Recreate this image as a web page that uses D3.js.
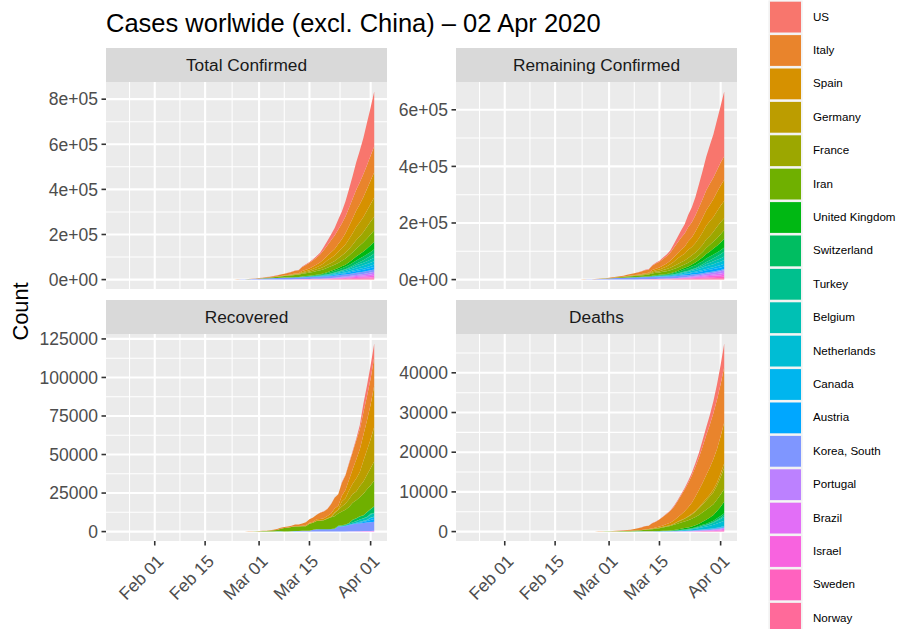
<!DOCTYPE html>
<html>
<head>
<meta charset="utf-8">
<script src="https://cdn.jsdelivr.net/npm/d3@7"></script>
<style>
  body { margin: 0; background: #fff; }
  svg text { font-family: "Liberation Sans", Arial, Helvetica, sans-serif; }
</style>
</head>
<body>
<svg id="chart" width="899" height="629"></svg>
<script>
// ---- data: cumulative counts per country, daily from 21 Feb to 02 Apr 2020 ----
const countries = ["US", "Italy", "Spain", "Germany", "France", "Iran", "United Kingdom",
  "Switzerland", "Turkey", "Belgium", "Netherlands", "Canada", "Austria", "Korea, South",
  "Portugal", "Brazil", "Israel", "Sweden", "Norway"];

const firstDate = "2020-01-22";   // first day of the series
const seriesStart = "2020-02-21"; // first day with non-negligible counts
const lastDate = "2020-04-02";

// rows: Feb21-Feb29 | Mar01-Mar10 | Mar11-Mar20 | Mar21-Mar30 | Mar31-Apr02
const confirmed = [
  [15,15,15,51,51,57,58,60,68, 74,98,118,149,217,262,402,518,583,959, 1281,1663,2179,2726,3499,4632,6421,7786,13680,19101, 25493,33276,43847,53740,65778,83836,101657,121478,140886,161807, 188172,213242,243622],
  [20,62,155,229,322,453,655,888,1128, 1694,2036,2502,3089,3858,4636,5883,7375,9172,10149, 12462,12462,17660,21157,24747,27980,31506,35713,41035,47021, 53578,59138,63927,69176,74386,80589,86498,92472,97689,101739, 105792,110574,115242],
  [2,2,2,2,6,13,15,32,45, 84,120,165,222,259,400,500,673,1073,1695, 2277,2277,5232,6391,7798,9942,11748,13910,17963,20410, 25374,28603,35136,39885,49515,57786,65719,73235,80110,87956, 95923,104118,112065],
  [16,16,16,16,17,27,46,48,79, 130,159,196,262,482,670,799,1040,1176,1457, 1908,2078,3675,4585,5795,7272,9257,12327,15320,19848, 22213,24873,29056,32986,37323,43938,50871,57695,62095,66885, 71808,77872,84794],
  [12,12,12,12,14,18,38,57,100, 130,191,204,288,380,656,959,1136,1219,1794, 2293,2293,3681,4496,4532,6683,7715,9124,10970,12758, 14463,16243,20123,22622,25600,29551,33402,38105,40708,45170, 52827,57749,59929],
  [18,28,43,61,95,139,245,388,593, 978,1501,2336,2922,3513,4747,5823,6566,7161,8042, 9000,10075,11364,12729,13938,14991,16169,17361,18407,19644, 20610,21638,23049,24811,27017,29406,32332,35408,38309,41495, 44605,47593,50468],
  [9,9,9,13,13,13,15,20,23, 36,40,51,86,116,164,207,274,322,384, 459,459,802,1144,1145,1551,1960,2642,2716,4014, 5067,5745,6726,8164,9640,11812,14745,17312,19780,22453, 25481,29865,34173],
  [0,0,0,0,1,1,8,8,18, 27,42,56,90,114,214,268,337,374,491, 652,652,1139,1359,2200,2200,2700,3028,4075,5294, 6575,7474,8795,9877,10897,11811,12928,14076,14829,15922, 16605,17768,18827],
  [0,0,0,0,0,0,0,0,0, 0,0,0,0,0,0,0,0,0,0, 1,1,5,5,6,18,47,98,192,359, 670,1236,1529,1872,2433,3629,5698,7402,9217,10827, 13531,15679,18135],
  [1,1,1,1,1,1,1,1,1, 2,8,13,23,50,109,169,200,239,267, 314,314,559,689,886,1058,1243,1486,1795,2257, 2815,3401,3743,4269,4937,6235,7284,9134,10836,11899, 12775,13964,15348],
  [0,0,0,0,0,0,1,1,6, 10,18,24,38,82,128,188,265,321,382, 503,503,806,962,1138,1416,1711,2058,2467,3003, 3640,4216,4764,5580,6438,7468,8647,9819,10930,11817, 12667,13696,14788],
  [8,8,9,9,11,11,13,14,20, 24,27,30,33,37,49,54,64,77,79, 108,117,193,198,252,415,478,657,800,943, 1277,1469,2088,2790,3251,4042,4682,5576,6280,7398, 8527,9560,11284],
  [0,0,0,0,2,2,3,3,9, 14,18,21,29,41,55,79,104,131,182, 246,302,504,655,860,1018,1332,1646,2013,2388, 2814,3582,4474,5283,5588,6909,7657,8271,8788,9618, 10180,10711,11129],
  [204,433,602,833,977,1261,1766,2337,3150, 3736,4335,5186,5621,6088,6593,7041,7314,7478,7513, 7755,7869,7979,8086,8162,8236,8320,8413,8565,8652, 8799,8897,8961,9037,9137,9241,9332,9478,9583,9661, 9786,9887,9976],
  [0,0,0,0,0,0,0,0,0, 0,2,2,5,8,13,20,30,30,41, 59,59,112,169,245,331,448,448,785,1020, 1280,1600,2060,2362,2995,3544,4268,5170,5962,6408, 7443,8251,9034],
  [0,0,0,0,0,1,1,1,2, 2,2,2,4,4,13,13,20,25,31, 38,52,151,151,162,200,321,372,621,793, 1021,1546,1924,2247,2554,2985,3417,3904,4256,4579, 5717,6836,8044],
  [1,1,1,1,1,1,3,3,7, 7,10,12,15,15,21,21,39,50,75, 75,100,126,161,200,250,304,427,529,712, 883,1071,1238,2369,2693,3035,3619,4247,4695,5358, 5591,6092,6857],
  [1,1,1,1,1,2,7,7,12, 14,15,21,35,94,101,161,203,248,355, 500,599,814,961,1022,1103,1190,1279,1439,1639, 1763,1934,2046,2286,2526,2840,3069,3447,3700,4028, 4435,4947,5568],
  [0,0,0,0,0,1,1,6,15, 19,25,32,56,87,108,147,176,205,400, 598,702,996,1090,1221,1333,1463,1550,1746,1914, 2118,2385,2621,2863,3084,3369,3755,4015,4284,4445, 4641,4863,5147]
];

const recovered = [
  [5,5,5,5,6,6,6,7,7, 7,7,7,7,7,7,7,7,7,8, 8,12,12,12,12,17,17,105,121,147, 176,178,0,348,361,681,869,1072,2665,5644, 7024,8474,9001],
  [0,1,2,1,1,3,45,46,46, 83,149,160,276,414,523,589,622,724,724, 1045,1045,1439,1966,2335,2749,2941,4025,4440,4440, 6072,7024,7432,8326,9362,10361,10950,12384,13030,14620, 15729,16847,18278],
  [2,2,2,2,2,2,2,2,2, 2,2,2,2,2,2,30,30,32,32, 183,183,193,517,517,530,1028,1081,1107,1588, 2125,2575,2575,3794,5367,7015,9357,12285,14709,16780, 19259,22647,26743],
  [14,14,14,14,14,15,16,16,16, 16,16,16,16,16,17,18,18,18,18, 25,25,46,46,46,67,67,105,113,180, 233,266,266,3243,3547,5673,6658,8481,9211,13500, 16100,18700,22440],
  [4,4,4,4,11,11,11,11,12, 12,12,12,12,12,12,12,12,12,12, 12,12,12,12,12,12,12,12,12,12, 12,2200,2206,3250,3907,4955,5707,5724,7226,7964, 9513,11053,12428],
  [0,0,0,0,0,0,49,73,123, 175,291,291,552,739,913,1669,2134,2394,2731, 2959,2959,2959,2959,4590,4590,5389,5389,5710,6745, 7635,7931,7931,8913,9625,10457,11133,11679,12391,13911, 14656,15473,16711],
  [8,8,8,8,8,8,8,8,8, 8,8,8,8,8,8,8,8,18,18, 19,19,19,19,19,52,52,67,67,67, 67,67,135,135,140,150,151,151,151,151, 179,179,208],
  [0,0,0,0,0,0,0,0,0, 0,0,2,3,3,3,3,3,3,3, 4,4,4,4,4,4,4,4,4,15, 15,15,131,131,131,131,1530,1595,1823,1823, 2967,2967,4013],
  [0,0,0,0,0,0,0,0,0, 0,0,0,0,0,0,0,0,0,0, 0,0,0,0,0,0,0,0,0,0, 0,0,0,0,26,26,42,70,105,162, 243,333,415],
  [1,1,1,1,1,1,1,1,1, 1,1,1,1,1,1,1,1,1,1, 1,1,1,1,1,1,1,1,1,1, 1,263,340,410,547,675,858,1063,1359,1527, 1696,2132,2132],
  [0,0,0,0,0,0,0,0,0, 0,0,0,0,0,0,0,0,0,0, 0,0,0,0,0,0,0,2,2,2, 2,2,2,2,3,3,3,3,253,253, 253,253,260],
  [3,3,3,3,3,3,6,6,6, 6,6,6,6,6,6,6,6,8,8, 8,8,8,8,8,8,9,9,9,9, 9,9,9,112,112,112,112,466,466,466, 466,1324,1324],
  [0,0,0,0,0,0,0,0,0, 0,0,0,0,0,0,0,0,0,4, 4,4,6,6,6,6,6,9,9,9, 9,9,9,9,9,112,225,225,479,636, 1095,1436,1749],
  [16,16,18,18,22,22,22,22,27, 30,30,30,41,41,135,135,118,118,247, 288,333,510,510,510,1137,1407,1540,1540,1540, 1540,1540,3166,3166,3507,4144,4528,4811,5033,5228, 5408,5567,5828],
  [0,0,0,0,0,0,0,0,0, 0,0,0,0,0,0,0,0,0,0, 0,0,1,1,1,2,3,3,3,5, 5,5,14,22,22,43,43,43,43,43, 43,43,68],
  [0,0,0,0,0,0,0,0,0, 0,0,0,0,0,0,0,0,0,0, 0,0,0,0,0,0,0,0,0,0, 0,2,2,2,2,6,6,6,6,120, 127,127,127],
  [0,0,0,0,0,0,0,0,0, 1,1,1,1,1,1,1,1,1,1, 1,1,4,4,4,4,11,11,11,11, 11,37,37,68,68,79,89,132,161,224, 241,264,338],
  [0,0,0,0,0,0,0,0,0, 0,0,0,0,0,0,0,0,0,1, 1,1,1,1,1,1,1,1,1,1, 16,16,16,16,16,16,16,16,16,16, 16,16,16],
  [0,0,0,0,0,0,0,0,0, 0,0,0,0,0,0,0,0,0,0, 1,1,1,1,1,1,1,1,1,1, 1,1,1,1,1,1,1,1,1,1, 1,7,7]
];

const deaths = [
  [0,0,0,0,0,0,0,0,1, 1,6,7,11,12,14,17,21,22,28, 36,40,47,54,63,85,108,118,200,244, 307,427,552,706,942,1209,1581,2026,2467,2978, 3873,4757,5926],
  [1,2,3,7,10,12,17,21,29, 34,52,79,107,148,197,233,366,463,631, 827,827,1266,1441,1809,2158,2503,2978,3405,4032, 4825,5476,6077,6820,7503,8215,9134,10023,10779,11591, 12428,13155,13915],
  [0,0,0,0,0,0,0,0,0, 0,0,1,2,3,5,10,17,28,35, 54,55,133,195,289,342,533,623,830,1043, 1375,1772,2311,2808,3647,4365,5138,5982,6803,7716, 8464,9387,10348],
  [0,0,0,0,0,0,0,0,0, 0,0,0,0,0,0,0,0,2,2, 3,3,7,9,11,17,24,28,44,67, 84,94,123,157,206,267,342,433,533,645, 775,920,1107],
  [1,1,1,1,1,2,2,2,2, 2,3,4,4,6,9,11,19,19,33, 48,48,79,91,91,148,148,148,243,450, 562,674,860,1100,1331,1696,1995,2314,2606,3024, 3523,4403,5387],
  [4,5,8,12,16,19,26,34,43, 54,66,77,92,107,124,145,194,237,291, 354,429,514,611,724,853,988,1135,1284,1433, 1556,1685,1812,1934,2077,2234,2378,2517,2640,2757, 2898,3036,3160],
  [0,0,0,0,0,0,0,0,0, 0,0,0,0,0,2,2,3,4,6, 8,8,8,21,21,56,56,72,138,178, 234,282,336,423,466,580,761,1021,1231,1411, 1793,2357,2926],
  [0,0,0,0,0,0,0,0,0, 0,0,0,0,1,1,1,2,2,3, 4,4,11,13,14,14,27,28,41,54, 75,98,120,122,153,191,231,264,300,359, 433,488,536],
  [0,0,0,0,0,0,0,0,0, 0,0,0,0,0,0,0,0,0,0, 0,0,0,0,0,0,1,1,3,4, 9,30,37,44,59,75,92,108,131,168, 214,277,356],
  [0,0,0,0,0,0,0,0,0, 0,0,0,0,0,0,0,0,0,0, 3,3,3,4,4,5,10,14,21,37, 67,75,88,122,178,220,289,353,431,513, 705,828,1011],
  [0,0,0,0,0,0,0,0,0, 0,0,0,0,0,1,1,3,3,4, 5,5,10,12,20,24,43,58,77,107, 137,180,214,277,357,435,547,640,772,865, 1040,1175,1341],
  [0,0,0,0,0,0,0,0,0, 0,0,0,0,0,0,0,0,1,1, 1,1,1,1,1,4,5,8,9,12, 19,21,25,26,30,38,54,61,64,80, 101,109,139],
  [0,0,0,0,0,0,0,0,0, 0,0,0,0,0,0,0,0,0,0, 0,1,1,1,1,3,3,4,6,6, 8,16,21,28,30,49,58,68,86,108, 128,146,158],
  [2,2,6,8,10,12,13,13,16, 17,28,28,35,35,42,44,50,53,54, 60,66,66,72,75,75,81,84,91,94, 102,104,111,120,126,131,139,144,152,158, 162,165,169],
  [0,0,0,0,0,0,0,0,0, 0,0,0,0,0,0,0,0,0,0, 0,0,0,0,0,1,1,2,3,6, 12,14,23,33,43,60,76,100,119,140, 160,187,209],
  [0,0,0,0,0,0,0,0,0, 0,0,0,0,0,0,0,0,0,0, 0,0,0,0,0,0,1,3,6,11, 15,25,34,46,59,77,92,111,136,159, 201,240,324],
  [0,0,0,0,0,0,0,0,0, 0,0,0,0,0,0,0,0,0,0, 0,0,0,0,0,0,0,0,0,1, 1,1,1,3,8,12,12,15,16,20, 21,26,36],
  [0,0,0,0,0,0,0,0,0, 0,0,0,0,0,0,0,0,0,0, 1,1,1,2,3,6,7,10,11,16, 20,21,25,36,62,77,105,105,110,146, 180,239,308],
  [0,0,0,0,0,0,0,0,0, 0,0,0,0,0,0,0,0,0,0, 0,0,1,1,3,3,3,6,7,7, 7,7,10,12,14,14,19,23,25,32, 39,44,50]
];

// axis breaks
const totalTicks = [0, 200000, 400000, 600000, 800000];
const remainingTicks = [0, 200000, 400000, 600000];
const recoveredTicks = [0, 25000, 50000, 75000, 100000, 125000];
const deathTicks = [0, 10000, 20000, 30000, 40000];
const dateTicks = ["2020-02-01", "2020-02-15", "2020-03-01", "2020-03-15", "2020-04-01"];

const titleText = "Cases worlwide (excl. China) \u2013 02 Apr 2020";
const panelTitles = ["Total Confirmed", "Remaining Confirmed", "Recovered", "Deaths"];

// ---- helpers ----
const parse = d3.utcParse("%Y-%m-%d");

// ggplot-style hue palette (polar CIELUV, c = 100, l = 65)
function hueColor(h, c = 100, l = 65) {
  const hr = h * Math.PI / 180;
  const U = c * Math.cos(hr), V = c * Math.sin(hr);
  const Xn = 95.047, Yn = 100, Zn = 108.883;
  const Y = Yn * (l > 7.999592 ? Math.pow((l + 16) / 116, 3) : l / 903.3);
  const t = Xn + Yn + Zn, x = Xn / t, y = Yn / t;
  const uN = 2 * x / (6 * y - x + 1.5), vN = 4.5 * y / (6 * y - x + 1.5);
  const u = U / (13 * l) + uN, v = V / (13 * l) + vN;
  const X = 9 * Y * u / (4 * v);
  const Z = -X / 3 - 5 * Y + 3 * Y / v;
  const lin = [
    ( 3.240479 * X - 1.537150 * Y - 0.498535 * Z) / Yn,
    (-0.969256 * X + 1.875992 * Y + 0.041556 * Z) / Yn,
    ( 0.055648 * X - 0.204043 * Y + 1.057311 * Z) / Yn
  ];
  const g = lin.map(a => {
    const s = a > 0.00304 ? 1.055 * Math.pow(a, 1 / 2.4) - 0.055 : 12.92 * a;
    return Math.round(Math.max(0, Math.min(1, s)) * 255);
  });
  return d3.rgb(g[0], g[1], g[2]).formatHex();
}
const n = countries.length;
const colors = countries.map((_, i) => hueColor(15 + i * 360 / n));
const colorOf = new Map(countries.map((c, i) => [c, colors[i]]));

function sciLabel(v) {
  if (v === 0) return "0e+00";
  const e = Math.floor(Math.log10(Math.abs(v)));
  const m = +(v / Math.pow(10, e)).toFixed(2);
  return m + "e" + (e >= 0 ? "+" : "-") + String(Math.abs(e)).padStart(2, "0");
}
const plainLabel = d3.format("d");

// ---- table rows per metric ----
const days = d3.utcDay.range(parse(seriesStart), d3.utcDay.offset(parse(lastDate), 1));
const remaining = confirmed.map((row, ci) => row.map((v, di) => v - recovered[ci][di] - deaths[ci][di]));

function toRows(matrix) {
  return days.map((d, di) => {
    const r = { date: d };
    countries.forEach((c, ci) => { r[c] = matrix[ci][di]; });
    return r;
  });
}

const panels = [
  { title: panelTitles[0], rows: toRows(confirmed), ticks: totalTicks, fmt: sciLabel, col: 0, row: 0 },
  { title: panelTitles[1], rows: toRows(remaining), ticks: remainingTicks, fmt: sciLabel, col: 1, row: 0 },
  { title: panelTitles[2], rows: toRows(recovered), ticks: recoveredTicks, fmt: plainLabel, col: 0, row: 1 },
  { title: panelTitles[3], rows: toRows(deaths), ticks: deathTicks, fmt: plainLabel, col: 1, row: 1 }
];

// ---- layout ----
const colX = [[106, 387], [456, 737]];
const rowY = [{ strip: 48, top: 82, bottom: 289 }, { strip: 300, top: 334, bottom: 541 }];
const TICK = 4.5;

const svg = d3.select("#chart");
svg.append("rect").attr("width", 899).attr("height", 629).attr("fill", "#fff");

svg.append("text")
  .attr("x", 106).attr("y", 32)
  .attr("font-size", 25.5).attr("fill", "#000")
  .text(titleText);

svg.append("text")
  .attr("transform", "translate(27.5,311.5) rotate(-90)")
  .attr("text-anchor", "middle")
  .attr("font-size", 21.8).attr("fill", "#000")
  .text("Count");

// shared x scale, 5% expansion around the data range
const d0 = parse(firstDate), d1 = parse(lastDate);
const pad = (d1 - d0) * 0.05;
const xDomain = [new Date(+d0 - pad), new Date(+d1 + pad)];
const majorDates = dateTicks.map(parse);

function minorBreaks(major, lo, hi) {
  const step0 = major[1] - major[0];
  const stepN = major[major.length - 1] - major[major.length - 2];
  const ext = [+major[0] - step0, ...major.map(Number), +major[major.length - 1] + stepN];
  const out = [];
  for (let i = 0; i < ext.length - 1; i++) out.push((ext[i] + ext[i + 1]) / 2);
  return out.filter(v => v >= lo && v <= hi);
}

const stackKeys = countries.slice().reverse(); // first country drawn on top

panels.forEach(p => {
  const [xl, xr] = colX[p.col];
  const { strip, top, bottom } = rowY[p.row];
  const x = d3.scaleUtc().domain(xDomain).range([xl, xr]);

  const series = d3.stack().keys(stackKeys)(p.rows);
  const maxY = d3.max(series[series.length - 1], d => d[1]);
  const y = d3.scaleLinear().domain([-0.05 * maxY, 1.05 * maxY]).range([bottom, top]);

  const g = svg.append("g");

  // strip
  g.append("rect").attr("x", xl).attr("y", strip).attr("width", xr - xl).attr("height", top - strip)
    .attr("fill", "#D9D9D9");
  g.append("text").attr("x", (xl + xr) / 2).attr("y", (strip + top) / 2).attr("dy", "0.36em")
    .attr("text-anchor", "middle").attr("font-size", 17.3).attr("fill", "#1A1A1A").text(p.title);

  // panel background
  g.append("rect").attr("x", xl).attr("y", top).attr("width", xr - xl).attr("height", bottom - top)
    .attr("fill", "#EBEBEB");

  // grid
  const [ylo, yhi] = y.domain();
  const yMinor = minorBreaks(p.ticks, ylo, yhi);
  const xMinor = minorBreaks(majorDates, +xDomain[0], +xDomain[1]);
  const grid = g.append("g").attr("stroke", "#fff").attr("fill", "none");
  yMinor.forEach(v => grid.append("line").attr("x1", xl).attr("x2", xr)
    .attr("y1", y(v)).attr("y2", y(v)).attr("stroke-width", 1.05));
  xMinor.forEach(v => grid.append("line").attr("y1", top).attr("y2", bottom)
    .attr("x1", x(new Date(v))).attr("x2", x(new Date(v))).attr("stroke-width", 1.05));
  p.ticks.forEach(v => grid.append("line").attr("x1", xl).attr("x2", xr)
    .attr("y1", y(v)).attr("y2", y(v)).attr("stroke-width", 2.1));
  majorDates.forEach(d => grid.append("line").attr("y1", top).attr("y2", bottom)
    .attr("x1", x(d)).attr("x2", x(d)).attr("stroke-width", 2.1));

  // stacked areas
  const area = d3.area().x(d => x(d.data.date)).y0(d => y(d[0])).y1(d => y(d[1]));
  g.append("g").selectAll("path").data(series).join("path")
    .attr("d", area).attr("fill", d => colorOf.get(d.key));

  // y axis
  const ya = g.append("g");
  p.ticks.forEach(v => {
    ya.append("line").attr("x1", xl - TICK).attr("x2", xl).attr("y1", y(v)).attr("y2", y(v))
      .attr("stroke", "#333333").attr("stroke-width", 1.6);
    ya.append("text").attr("x", xl - TICK - 3.6).attr("y", y(v)).attr("dy", "0.36em")
      .attr("text-anchor", "end").attr("font-size", 17.5).attr("fill", "#4D4D4D").text(p.fmt(v));
  });

  // x axis only under the bottom row
  if (p.row === 1) {
    const xa = g.append("g");
    const fmt = d3.utcFormat("%b %d");
    majorDates.forEach(d => {
      xa.append("line").attr("x1", x(d)).attr("x2", x(d)).attr("y1", bottom).attr("y2", bottom + TICK)
        .attr("stroke", "#333333").attr("stroke-width", 1.6);
      xa.append("text")
        .attr("transform", `translate(${x(d) + 1},${bottom + TICK + 8}) rotate(-45)`)
        .attr("dy", "0.72em")
        .attr("text-anchor", "end").attr("font-size", 17.5).attr("fill", "#4D4D4D").text(fmt(d));
    });
  }
});

// ---- legend ----
const legTop = 0.4, pitch = 33.4;
const leg = svg.append("g");
countries.forEach((c, i) => {
  const ty = legTop + i * pitch;
  leg.append("rect").attr("x", 768.3).attr("y", ty).attr("width", 34.4).attr("height", pitch)
    .attr("fill", "#F2F2F2");
  leg.append("rect").attr("x", 770).attr("y", ty + 1.3).attr("width", 31).attr("height", pitch - 2.6)
    .attr("fill", colorOf.get(c));
  leg.append("text").attr("x", 813).attr("y", ty + pitch / 2).attr("dy", "0.3em")
    .attr("font-size", 11.6).attr("fill", "#000").text(c);
});
</script>
</body>
</html>
